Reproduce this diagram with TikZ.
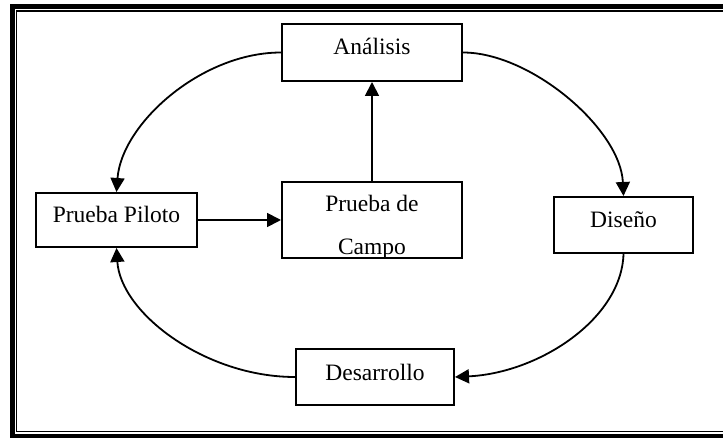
\documentclass[tikz,border=0pt]{standalone}
\usepackage{fontspec}
\setmainfont{Liberation Serif}
\usetikzlibrary{arrows.meta}
\tikzset{
  box/.style={draw, line width=2pt, fill=white, inner sep=0pt, font=\fontsize{23.5}{28}\selectfont},
  lbl/.style={inner sep=0pt, font=\fontsize{23.5}{28}\selectfont},
  conn/.style={line width=1.8pt, -{Triangle[length=14pt,width=14pt]}},
  outerframe/.style={line width=5pt},
  innerframe/.style={line width=1.3pt}
}
\begin{document}
\begin{tikzpicture}[x=1pt,y=-1pt]
\useasboundingbox (0,0) rectangle (723,438);
\clip (0,0) rectangle (723,438);
% frame
\draw[outerframe] (12.5,6.5) rectangle (735,436);
\draw[innerframe] (16.8,11) rectangle (728,431.5);
% boxes
\node[box, minimum width=180pt, minimum height=57pt, text height=10pt, text depth=5pt] (ana) at (372,52.5) {Análisis};
\node[box, minimum width=161pt, minimum height=54pt, text height=10pt, text depth=4pt] (piloto) at (116.5,220) {Prueba Piloto};
\node[box, minimum width=180pt, minimum height=76pt] (campo) at (372,220) {};
\begin{scope}
\clip ([xshift=1pt,yshift=1pt]campo.south west) rectangle (campo.north east);
\node[lbl, anchor=base] (campoA) at (372,212) {Prueba de};
\node[lbl, anchor=base] (campoB) at (372,255) {Campo};
\end{scope}
\node[box, minimum width=139pt, minimum height=56pt, text height=10pt, text depth=4pt] (dis) at (623.5,225) {Diseño};
\node[box, minimum width=158pt, minimum height=56pt, text height=10pt, text depth=2pt] (des) at (375,377) {Desarrollo};
% connectors
\draw[conn] (ana.west) .. controls +(-80,0) and +(5,-68) .. (piloto.north);
\draw[conn] (ana.east) .. controls +(68,0) and +(-3,-67) .. (dis.north);
\draw[conn] (dis.south) .. controls +(-2,65) and +(84,-4) .. (des.east);
\draw[conn] (des.west) .. controls +(-90,0) and +(4,65) .. (piloto.south);
\draw[conn] (piloto.east) -- (campo.west);
\draw[conn] (campo.north) -- (ana.south);
\end{tikzpicture}
\end{document}
